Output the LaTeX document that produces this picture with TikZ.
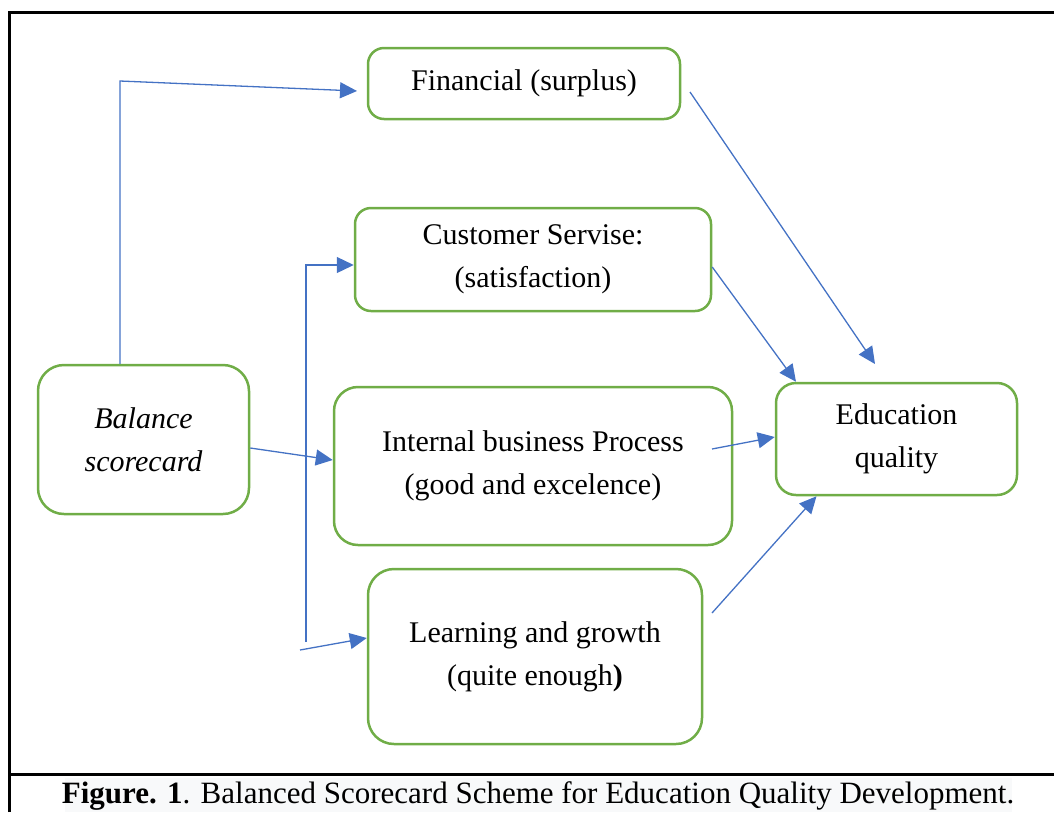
\documentclass[tikz,border=0pt]{standalone}
\usepackage{fontspec}
\setmainfont{Liberation Serif}
\usetikzlibrary{arrows.meta}
\definecolor{boxgreen}{HTML}{70AD47}
\definecolor{arrowblue}{HTML}{4472C4}
\definecolor{capgray}{HTML}{F8F9FA}

\begin{document}
\begin{tikzpicture}[x=1pt, y=-1pt,
  box/.style = 
  	{shape=rectangle, rounded corners=16pt,
    draw=boxgreen, line width=2.5pt, align=center,
    inner sep=0pt, font=\fontsize{30}{43}\selectfont},
  link/.style = {draw=arrowblue, line width=1.3pt,
    -{Triangle[length=17pt,width=16pt]}}
]
  \useasboundingbox (0,0) rectangle (1054,812);

  \fill[capgray] (65,778) rectangle (1012,812);
  \draw[line width=3pt] (9,812) -- (9,12) -- (1054,12);
  \draw[line width=3pt] (9,774) -- (1054,774);

  \node[box, minimum width=312pt, minimum height=71pt] (fin) at (524,83.5) {Financial (surplus)};
  \node[box, minimum width=356pt, minimum height=103pt] (cust) at (533,259.5) {Customer Servise:\\(satisfaction)};
  \node[box, rounded corners=26pt, minimum width=211pt, minimum height=149pt] (bsc) at (143.5,439.5) {\itshape Balance\\\itshape scorecard};
  \node[box, rounded corners=24pt, minimum width=398pt, minimum height=158pt] (ibp) at (533,466) {Internal business Process\\(good and excelence)};
  \node[box, rounded corners=26pt, minimum width=334pt, minimum height=175pt] (lag) at (535,656.5) {Learning and growth\\(quite enough\textbf{)}};
  \node[box, rounded corners=20pt, minimum width=241pt, minimum height=112pt] (edu) at (896.5,439) {Education\\quality};

  \coordinate (bend) at (120,81);
  \coordinate (fin-in) at (357,91);
  \coordinate (rail) at (306,642);
  \coordinate (lag-tail) at (300,650);
  \coordinate (fin-out) at (690,92);
  \coordinate (edu-top) at (875,364);
  \coordinate (ibp-out) at (712,449);
  \coordinate (lag-out) at (712,613);

  \draw[link] ([xshift=-23.5pt]bsc.north) -- (bend) -- (fin-in);
  \draw[link] (rail) |- ([yshift=-5.5pt]cust.west);
  \draw[link] (lag-tail) -- ([yshift=18.5pt]lag.west);
  \draw[link] ([yshift=-8.5pt]bsc.east) -- ([yshift=6pt]ibp.west);

  \draw[link] (fin-out) -- (edu-top);
  \draw[link] ([yshift=-7.5pt]cust.east) -- ([xshift=-100.5pt]edu.north);
  \draw[link] (ibp-out) -- ([yshift=2pt]edu.west);
  \draw[link] (lag-out) -- ([xshift=-80pt]edu.south);

  \node[font=\fontsize{31}{34}\selectfont] (cap) at (538,796)
    {\textbf{Figure. 1}. Balanced Scorecard Scheme for Education Quality Development.};

\end{tikzpicture}
\end{document}
